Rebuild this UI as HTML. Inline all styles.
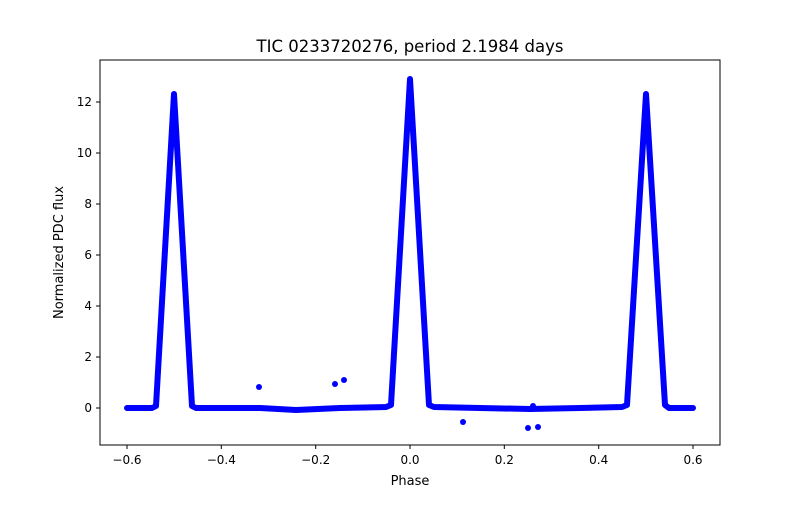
<!DOCTYPE html>
<html><head><style>body{margin:0;background:#fff}svg text{font-family:"DejaVu Sans","Liberation Sans",sans-serif;fill:#000}</style></head><body>
<svg width="800" height="500" viewBox="0 0 800 500">
<rect width="800" height="500" fill="#fff"/>
<text x="410" y="52" font-size="16.5" text-anchor="middle">TIC 0233720276, period 2.1984 days</text>
<g stroke="#0000ff" stroke-width="6" fill="none" stroke-linejoin="round" stroke-linecap="round">
<path d="M127,408 L152,408 L156,406 L174,94 L192,406 L196,408 L260,408 L296,410 L340,408 L386,407 L391,405 L410,79 L429,405 L434,407 L480,408 L530,409 L580,408 L622,407 L627,405 L646,94 L665,405 L669,408 L693,408"/>
</g>
<g fill="#0000ff">
<circle cx="259" cy="387" r="3"/><circle cx="335" cy="384" r="3"/><circle cx="344" cy="380" r="3"/>
<circle cx="463" cy="422" r="3"/><circle cx="528" cy="428" r="3"/><circle cx="538" cy="427" r="3"/><circle cx="533" cy="406" r="3"/>
</g>
<rect x="100" y="60" width="620" height="385" fill="none" stroke="#000" stroke-width="1"/>
<g stroke="#000" stroke-width="1">
<line x1="127" y1="445" x2="127" y2="449"/><line x1="221.3" y1="445" x2="221.3" y2="449"/><line x1="315.7" y1="445" x2="315.7" y2="449"/><line x1="410" y1="445" x2="410" y2="449"/><line x1="504.3" y1="445" x2="504.3" y2="449"/><line x1="598.7" y1="445" x2="598.7" y2="449"/><line x1="693" y1="445" x2="693" y2="449"/>
<line x1="96" y1="408" x2="100" y2="408"/><line x1="96" y1="357" x2="100" y2="357"/><line x1="96" y1="306" x2="100" y2="306"/><line x1="96" y1="255" x2="100" y2="255"/><line x1="96" y1="204" x2="100" y2="204"/><line x1="96" y1="153" x2="100" y2="153"/><line x1="96" y1="102" x2="100" y2="102"/>
</g>
<g font-size="12" text-anchor="middle">
<text x="127" y="464">−0.6</text><text x="221.3" y="464">−0.4</text><text x="315.7" y="464">−0.2</text><text x="410" y="464">0.0</text><text x="504.3" y="464">0.2</text><text x="598.7" y="464">0.4</text><text x="693" y="464">0.6</text>
</g>
<g font-size="12" text-anchor="end">
<text x="92" y="412">0</text><text x="92" y="361">2</text><text x="92" y="310">4</text><text x="92" y="259">6</text><text x="92" y="208">8</text><text x="92" y="157">10</text><text x="92" y="106">12</text>
</g>
<text x="410" y="485" font-size="13" text-anchor="middle">Phase</text>
<text transform="translate(63,252.5) rotate(-90)" font-size="13" text-anchor="middle">Normalized PDC flux</text>
</svg>
</body></html>
